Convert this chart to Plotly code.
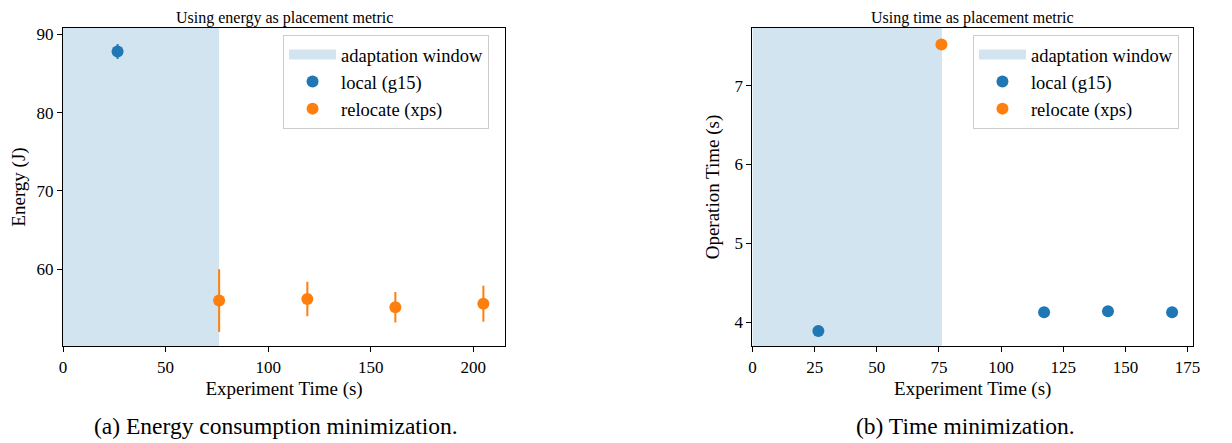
import plotly.graph_objects as go

# ---- data ----
window_end_a = 76.1
local_a_x = [26.6]
local_a_y = [87.8]
local_a_err = [0.95]
reloc_a_x = [76.1, 119.1, 162.0, 204.9]
reloc_a_y = [56.0, 56.2, 55.15, 55.6]
reloc_a_err = [4.0, 2.2, 1.95, 2.3]

window_end_b = 76.2
local_b_x = [26.5, 117.3, 143.0, 168.8]
local_b_y = [3.89, 4.127, 4.139, 4.127]
reloc_b_x = [76.0]
reloc_b_y = [7.52]

xr_a = [0, 215.5]
yr_a = [50.2, 90.8]
xr_b = [0, 177.2]
yr_b = [3.70, 7.73]

BLUE = "#1f77b4"
ORANGE = "#ff7f0e"
SHADE = "rgba(31,119,180,0.2)"
FONT = "Liberation Serif"

OFF = 8  # page body margin
W, H = 1232 - OFF, 443 - OFF
ML = 63 - OFF
MT = 28 - OFF
MR = W - (1192.7 - OFF)
MB = H - (346 - OFF)
PW = W - ML - MR
PH = H - MT - MB


def px_x(p):  # reference image pixel -> paper
    return (p - OFF - ML) / PW


def px_y(p):
    return (H - MB - (p - OFF)) / PH


fig = go.Figure()


def add_panel(xa, ya, leg, win_end, yr, lx, ly, lerr, rx, ry, rerr, tag):
    fig.add_trace(go.Scatter(x=[0, win_end, win_end, 0, 0],
                             y=[yr[0], yr[0], yr[1], yr[1], yr[0]],
                             fill="toself", fillcolor=SHADE, mode="none",
                             showlegend=False, xaxis=xa, yaxis=ya, hoverinfo="skip"))
    fig.add_trace(go.Scatter(x=[None], y=[None], mode="lines",
                             line=dict(color=SHADE, width=13),
                             name="adaptation window", legend=leg, legendgroup=tag + "1",
                             xaxis=xa, yaxis=ya))
    ek = dict(type="data", thickness=2, width=0)
    fig.add_trace(go.Scatter(x=lx, y=ly, mode="markers",
                             marker=dict(color=BLUE, size=12),
                             error_y=dict(array=lerr, color=BLUE, **ek) if lerr else None,
                             name="local (g15)", legend=leg, legendgroup=tag + "2",
                             xaxis=xa, yaxis=ya))
    fig.add_trace(go.Scatter(x=rx, y=ry, mode="markers",
                             marker=dict(color=ORANGE, size=12),
                             error_y=dict(array=rerr, color=ORANGE, **ek) if rerr else None,
                             name="relocate (xps)", legend=leg, legendgroup=tag + "3",
                             xaxis=xa, yaxis=ya))


add_panel("x", "y", "legend", window_end_a, yr_a, local_a_x, local_a_y, local_a_err,
          reloc_a_x, reloc_a_y, reloc_a_err, "a")
add_panel("x2", "y2", "legend2", window_end_b, yr_b, local_b_x, local_b_y, None,
          reloc_b_x, reloc_b_y, None, "b")

TICK = 17
TITLE = 19
ax_common = dict(showline=True, linecolor="black", linewidth=1.2, mirror=True,
                 ticks="outside", ticklen=5, tickcolor="black", showgrid=False,
                 zeroline=False, automargin=False,
                 tickfont=dict(family=FONT, size=TICK, color="black"))

dom_a = [0, px_x(505)]
dom_b = [px_x(752.3), 1]

leg_common = dict(xanchor="left", yanchor="top",
                  bgcolor="rgba(255,255,255,0.8)", bordercolor="#cccccc", borderwidth=1,
                  font=dict(family=FONT, size=18.5), itemwidth=47, tracegroupgap=0)

fig.update_layout(
    width=W, height=H, margin=dict(l=ML, r=MR, t=MT, b=MB, autoexpand=False),
    plot_bgcolor="white", paper_bgcolor="white",
    font=dict(family=FONT, color="black"),
    xaxis=dict(domain=dom_a, range=xr_a, tickvals=[0, 50, 100, 150, 200], anchor="y",
               title=dict(text="Experiment Time (s)", font=dict(family=FONT, size=TITLE), standoff=6),
               **ax_common),
    yaxis=dict(domain=[0, 1], range=yr_a, tickvals=[60, 70, 80, 90], anchor="x",
               title=dict(text="Energy (J)", font=dict(family=FONT, size=TITLE), standoff=9),
               **ax_common),
    xaxis2=dict(domain=dom_b, range=xr_b, tickvals=[0, 25, 50, 75, 100, 125, 150, 175], anchor="y2",
                title=dict(text="Experiment Time (s)", font=dict(family=FONT, size=TITLE), standoff=6),
                **ax_common),
    yaxis2=dict(domain=[0, 1], range=yr_b, tickvals=[4, 5, 6, 7], anchor="x2",
                title=dict(text="Operation Time (s)", font=dict(family=FONT, size=TITLE), standoff=9),
                **ax_common),
    legend=dict(x=px_x(283), y=px_y(35), **leg_common),
    legend2=dict(x=px_x(972.7), y=px_y(35), **leg_common),
    showlegend=True,
)

fig.add_annotation(text="Using energy as placement metric", xref="paper", yref="paper",
                   x=(dom_a[0] + dom_a[1]) / 2, y=px_y(8), xanchor="center", yanchor="top",
                   showarrow=False, borderpad=0, font=dict(family=FONT, size=16))
fig.add_annotation(text="Using time as placement metric", xref="paper", yref="paper",
                   x=(dom_b[0] + dom_b[1]) / 2, y=px_y(8), xanchor="center", yanchor="top",
                   showarrow=False, borderpad=0, font=dict(family=FONT, size=16))
fig.add_annotation(text="(a) Energy consumption minimization.", xref="paper", yref="paper",
                   x=px_x(275.5), y=px_y(426), xanchor="center", yanchor="middle",
                   showarrow=False, font=dict(family=FONT, size=23.5))
fig.add_annotation(text="(b) Time minimization.", xref="paper", yref="paper",
                   x=px_x(964.8), y=px_y(426), xanchor="center", yanchor="middle",
                   showarrow=False, font=dict(family=FONT, size=23.5))

fig.write_html("out.html")
